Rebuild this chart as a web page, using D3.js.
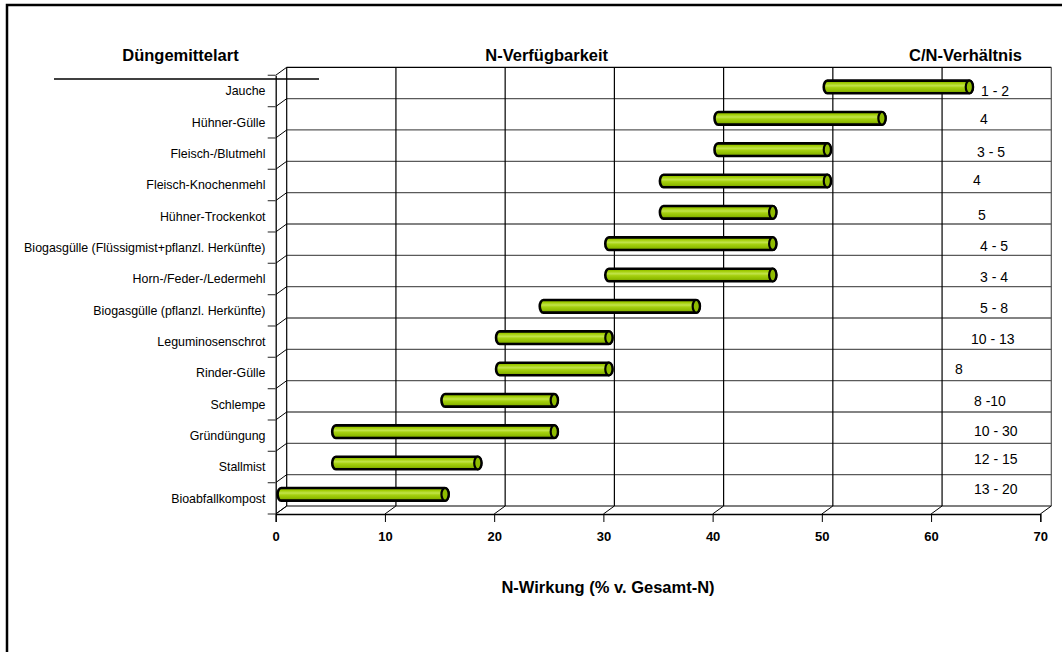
<!DOCTYPE html>
<html>
<head>
<meta charset="utf-8">
<script src="https://cdn.jsdelivr.net/npm/d3@7"></script>
<style>
  html, body { margin: 0; padding: 0; background: #fff; }
  svg { display: block; font-family: "Liberation Sans", Arial, sans-serif; }
</style>
</head>
<body>
<svg id="chart" width="1062" height="652"></svg>
<script>
// ---------- data ----------
const categories = [
  "Jauche", "Hühner-Gülle", "Fleisch-/Blutmehl", "Fleisch-Knochenmehl",
  "Hühner-Trockenkot", "Biogasgülle (Flüssigmist+pflanzl. Herkünfte)",
  "Horn-/Feder-/Ledermehl", "Biogasgülle (pflanzl. Herkünfte)",
  "Leguminosenschrot", "Rinder-Gülle", "Schlempe", "Gründüngung",
  "Stallmist", "Bioabfallkompost"
];
const nMin = [50, 40, 40, 35, 35, 30, 30, 24, 20, 20, 15, 5, 5, 0];
const nMax = [63, 55, 50, 50, 45, 45, 45, 38, 30, 30, 25, 25, 18, 15];
const cnRatio = ["1 - 2", "4", "3 - 5", "4", "5", "4 - 5", "3 - 4", "5 - 8",
                 "10 - 13", "8", "8 -10", "10 - 30", "12 - 15", "13 - 20"];
const xTicks = [0, 10, 20, 30, 40, 50, 60, 70];
const headers = ["Düngemittelart", "N-Verfügbarkeit", "C/N-Verhältnis"];
const xTitle = "N-Wirkung (% v. Gesamt-N)";

// ---------- layout (not data) ----------
const cnNudge = [[981, 4.7], [980, 1.7], [977, 3], [973, 0], [978, 3.5], [980, 3], [980, 3],
                 [980, 2.5], [971, 2], [955, 1], [974, 1.5], [974, 0], [974, -3], [974, -4.7]];

const svg = d3.select("#chart");
const DX = 11, DY = 8;
const x = d3.scaleLinear().domain([0, 70]).range([275.7, 1040.3]);
const y = d3.scaleBand().domain(categories).range([75.3, 514]).paddingInner(0).paddingOuter(0);
const xL = x(0), xR = x(70), yT = y.range()[0], yB = y.range()[1];

// outer frame (left & top visible)
svg.append("rect").attr("x", 7).attr("y", 5).attr("width", 1100).attr("height", 700)
  .attr("fill", "none").attr("stroke", "#000").attr("stroke-width", 2.5);

// gradient for cylinders
const defs = svg.append("defs");
const g1 = defs.append("linearGradient").attr("id", "cyl").attr("x1", 0).attr("y1", 0).attr("x2", 0).attr("y2", 1);
[[0, "#7da600"], [0.18, "#9fcc00"], [0.4, "#c2e44a"], [0.55, "#a6d110"], [0.8, "#8fbc00"], [1, "#6f9400"]]
  .forEach(([o, c]) => g1.append("stop").attr("offset", o).attr("stop-color", c));

const grid = svg.append("g");
// back wall horizontal gridlines
const bounds = categories.map(c => y(c)).concat([yB]);
bounds.forEach((b, i) => {
  if (i === 0) return;
  if (i < bounds.length - 1)
    grid.append("line").attr("x1", xL + DX).attr("x2", xR + DX).attr("y1", b - DY).attr("y2", b - DY)
      .attr("stroke", "#5a5a5a").attr("stroke-width", 1.3);
});
// back wall top and floor back line
grid.append("line").attr("x1", xL + DX).attr("x2", xR + DX).attr("y1", yT - DY).attr("y2", yT - DY)
  .attr("stroke", "#000").attr("stroke-width", 1.2);
grid.append("line").attr("x1", xL + DX).attr("x2", xR + DX).attr("y1", yB - DY).attr("y2", yB - DY)
  .attr("stroke", "#555").attr("stroke-width", 1.3);
// back wall vertical gridlines
xTicks.forEach(t => {
  grid.append("line").attr("x1", x(t) + DX).attr("x2", x(t) + DX).attr("y1", yT - DY).attr("y2", yB - DY)
    .attr("stroke", t === 70 ? "#555" : "#000").attr("stroke-width", 1.2);
  // floor diagonal
  grid.append("line").attr("x1", x(t)).attr("x2", x(t) + DX).attr("y1", yB).attr("y2", yB - DY)
    .attr("stroke", "#000").attr("stroke-width", 1);
});
// left wall diagonals
bounds.forEach(b => {
  grid.append("line").attr("x1", xL).attr("x2", xL + DX).attr("y1", b).attr("y2", b - DY)
    .attr("stroke", "#000").attr("stroke-width", 1);
});

// x axis (front)
const xAxis = d3.axisBottom(x).tickValues(xTicks).tickSize(8).tickPadding(10).tickFormat(d3.format("d"));
const gx = svg.append("g").attr("transform", `translate(0,${yB})`).call(xAxis);
gx.select(".domain").attr("stroke", "#000").attr("stroke-width", 1.3);
gx.selectAll(".tick line").attr("stroke", "#000").attr("stroke-width", 1);
gx.selectAll(".tick text").attr("font-family", "Liberation Sans, Arial, sans-serif")
  .attr("font-size", 13).attr("font-weight", "bold").attr("fill", "#000");

// y axis (front left)
const yAxis = d3.axisLeft(y).tickValues([]).tickSizeOuter(0);
const gy = svg.append("g").attr("transform", `translate(${xL},0)`).call(yAxis);
gy.select(".domain").attr("stroke", "#000").attr("stroke-width", 1.3);
bounds.forEach(b => {
  svg.append("line").attr("x1", xL - 8).attr("x2", xL).attr("y1", b).attr("y2", b)
    .attr("stroke", "#555").attr("stroke-width", 1.3);
});

// category labels
svg.append("g").selectAll("text").data(categories).join("text")
  .attr("x", 265.5).attr("y", d => y(d) + y.bandwidth() / 2 + 4.4)
  .attr("text-anchor", "end").attr("font-size", 12.4).attr("fill", "#000").text(d => d);

// cylinders
const RX = 3.6, RY = 6.3;
const bars = svg.append("g");
categories.forEach((c, i) => {
  const x1 = x(nMin[i]) + DX / 2, x2 = x(nMax[i]) + DX / 2;
  const cy = y(c) + y.bandwidth() / 2 - DY / 2;
  const p = `M${x1},${cy - RY} L${x2},${cy - RY} A${RX},${RY} 0 0 1 ${x2},${cy + RY} L${x1},${cy + RY} A${RX},${RY} 0 0 1 ${x1},${cy - RY} Z`;
  bars.append("path").attr("d", p).attr("fill", "url(#cyl)").attr("stroke", "#000").attr("stroke-width", 2.6);
  bars.append("ellipse").attr("cx", x2).attr("cy", cy).attr("rx", RX).attr("ry", RY)
    .attr("fill", "#8fbc00").attr("stroke", "#000").attr("stroke-width", 2.2);
});

// C/N labels
svg.append("g").selectAll("text").data(cnRatio).join("text")
  .attr("x", (d, i) => cnNudge[i][0])
  .attr("y", (d, i) => y(categories[i]) + y.bandwidth() / 2 + cnNudge[i][1])
  .attr("font-size", 14).attr("fill", "#000").text(d => d);

// headers
const hx = [180.5, 546.7, 965.5];
svg.append("g").selectAll("text").data(headers).join("text")
  .attr("x", (d, i) => hx[i]).attr("y", 61).attr("text-anchor", "middle")
  .attr("font-size", 16.5).attr("font-weight", "bold").text(d => d);
svg.append("line").attr("x1", 54).attr("x2", 319).attr("y1", 79).attr("y2", 79)
  .attr("stroke", "#000").attr("stroke-width", 1.6);

// x axis title
svg.append("text").attr("x", 608).attr("y", 592.5).attr("text-anchor", "middle")
  .attr("font-size", 16.5).attr("font-weight", "bold").text(xTitle);
</script>
</body>
</html>
